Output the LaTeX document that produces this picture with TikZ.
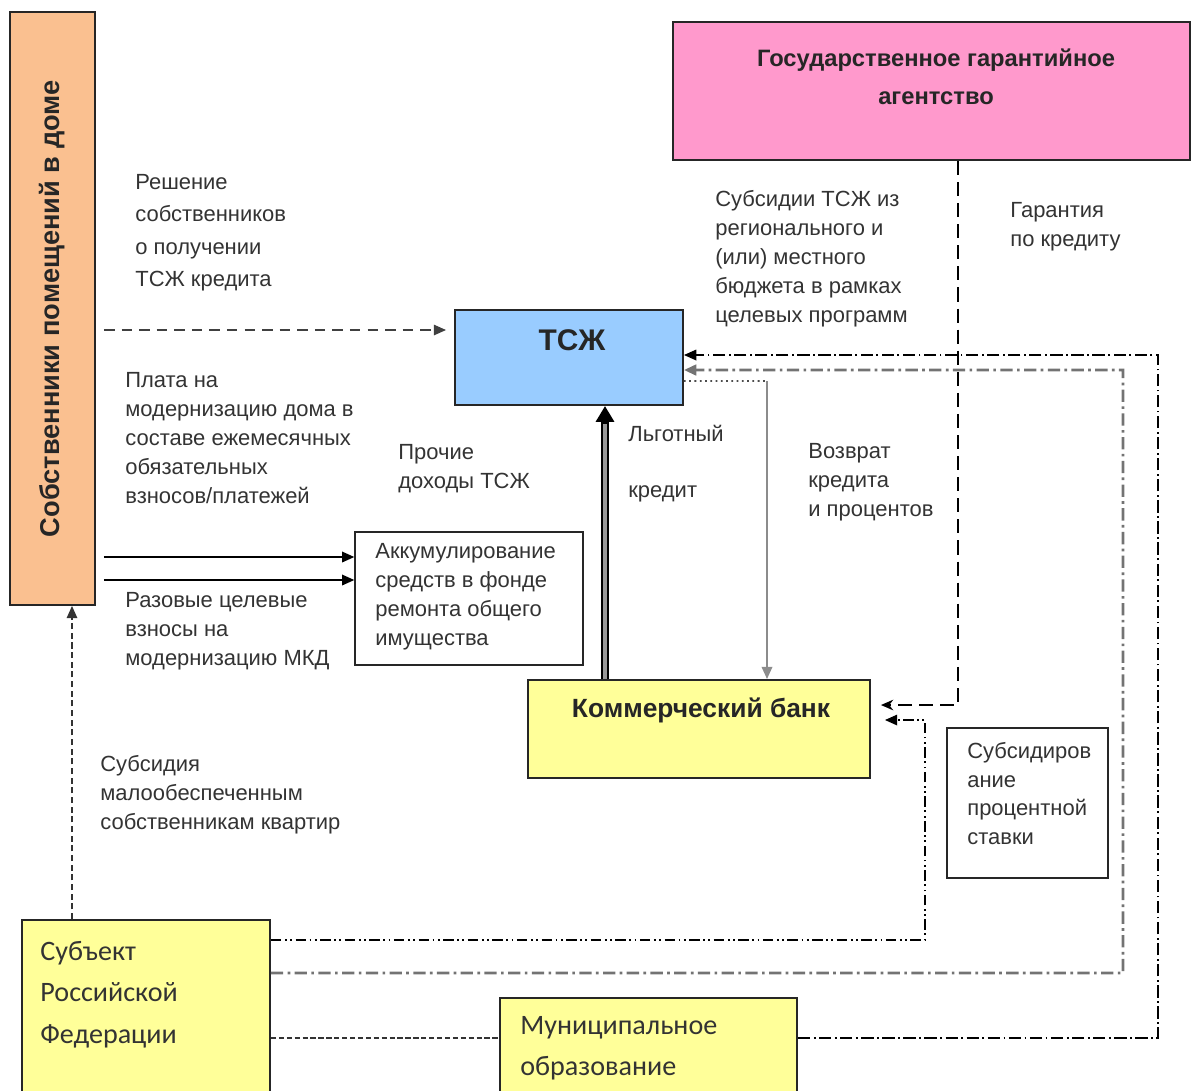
\documentclass[tikz,border=0pt]{standalone}
\usepackage{fontspec}
\setmainfont{Liberation Sans}
\newfontfamily\calib{Carlito}
\usepackage{tikz}
\usetikzlibrary{arrows.meta}
\usetikzlibrary{calc}
\definecolor{ownfill}{HTML}{FAC090}
\definecolor{agfill}{HTML}{FF99CC}
\definecolor{tsfill}{HTML}{99CCFF}
\definecolor{ylfill}{HTML}{FFFF99}
\definecolor{txt}{HTML}{333333}
\tikzset{
  box/.style={draw=black!85,line width=1.1pt,inner sep=0pt},
  lbl/.style={anchor=north west,inner sep=0pt,align=left,text=txt,font=\fontsize{12.5}{16.5}\selectfont},
  tip/.style={-{Triangle[length=7pt,width=6pt]}},
  dashflow/.style={-{Stealth[length=7pt,width=6pt]},line width=1.1pt,dash pattern=on 8pt off 4pt},
  dashthin/.style={tip,line width=0.8pt,black!75,dash pattern=on 6pt off 4pt},
  dashshort/.style={tip,line width=0.9pt,black!80,dash pattern=on 3.5pt off 2pt},
  dashdot/.style={tip,line width=0.9pt,dash pattern=on 7pt off 2pt on 1pt off 2pt},
  dashdotgray/.style={tip,line width=1.6pt,black!55,dash pattern=on 7pt off 2.5pt on 1.5pt off 2.5pt},
  dashdotdot/.style={tip,line width=0.9pt,dash pattern=on 6pt off 2pt on 1pt off 2pt on 1pt off 2pt},
}
\begin{document}
\begin{tikzpicture}[x=0.02cm,y=-0.02cm]
        \useasboundingbox (0,0) rectangle (1192,1090);
        % boxes
        \node[box,fill=ownfill,minimum width=1.7cm,minimum height=11.86cm] (own) at (52.5,308.5) {};
        \node[rotate=90,text=black!85,font=\fontsize{15.5}{18}\selectfont\bfseries] (ownText) at (own.center) {Собственники помещений в доме};
        \node[box,fill=agfill,minimum width=10.34cm,minimum height=2.76cm] (agency) at (931.5,91) {};
        \node[align=center,text=black!85,font=\fontsize{13.5}{21.5}\selectfont\bfseries] (agText) at (936,77) {Государственное гарантийное\\агентство};
        \node[box,fill=tsfill,minimum width=4.56cm,minimum height=1.9cm] (tszh) at (569,357.5) {};
        \node[text=black!85,font=\fontsize{17}{20}\selectfont\bfseries] (tsText) at (572,340) {ТСЖ};
        \node[box,fill=white,line width=0.8pt,minimum width=4.56cm,minimum height=2.66cm] (akk) at (469,598.5) {};
        \node[lbl,font=\fontsize{12.5}{16.5}\selectfont] (akkText) at (375,543) {Аккумулирование\\средств в фонде\\ремонта общего\\имущества};
        \node[box,fill=ylfill,minimum width=6.84cm,minimum height=1.96cm] (bank) at (699,729) {};
        \node[text=black!85,font=\fontsize{15}{18}\selectfont\bfseries] (bankText) at (701,710) {Коммерческий банк};
        \node[box,fill=white,line width=0.8pt,minimum width=3.22cm,minimum height=3cm] (rate) at (1027.5,803) {};
        \node[lbl,font=\fontsize{12.5}{16.3}\selectfont] (rateText) at (967,742) {Субсидиров\\ание\\процентной\\ставки};
        \node[box,fill=ylfill,minimum width=4.96cm,minimum height=3.6cm] (subj) at (146,1010) {};
        \node[lbl,font=\calib\fontsize{16}{23.5}\selectfont] (subjText) at (40,941) {Субъект\\Российской\\Федерации};
        \node[box,fill=ylfill,minimum width=5.94cm,minimum height=2.04cm] (muni) at (648.5,1049) {};
        \node[lbl,font=\calib\fontsize{16}{23.5}\selectfont] (muniText) at (520,1016) {Муниципальное\\образование};
        % labels
        \node[lbl,font=\fontsize{12.5}{18.5}\selectfont] (decision) at (135,174) {Решение\\собственников\\о получении\\ТСЖ кредита};
        \node[lbl] (monthly) at (125,372) {Плата на\\модернизацию дома в\\составе ежемесячных\\обязательных\\взносов/платежей};
        \node[lbl] (other) at (398,444) {Прочие\\доходы ТСЖ};
        \node[lbl,font=\fontsize{12.5}{32}\selectfont] (credit) at (628,425) {Льготный\\кредит};
        \node[lbl] (repay) at (808,443) {Возврат\\кредита\\и процентов};
        \node[lbl] (budget) at (715,190) {Субсидии ТСЖ из\\регионального и\\(или) местного\\бюджета в рамках\\целевых программ};
        \node[lbl] (guarantee) at (1010,202) {Гарантия\\по кредиту};
        \node[lbl] (oneoff) at (125,592) {Разовые целевые\\взносы на\\модернизацию МКД};
        \node[lbl] (poor) at (100,755) {Субсидия\\малообеспеченным\\собственникам квартир};
        % connectors
        \draw[dashthin] ($(own.east |- 0,330)+(8,0)$) -- ($(tszh.west |- 0,330)+(-8,0)$);
        \draw[tip,line width=1pt] ($(own.east |- 0,557)+(8,0)$) -- (akk.west |- 0,557);
        \draw[tip,line width=1pt] ($(own.east |- 0,580)+(8,0)$) -- (akk.west |- 0,580);
        \draw[dashshort] (subj.north -| 72,0) -- (own.south -| 72,0);
        \draw[dashflow] (agency.south -| 958,0) |- ($(bank.east |- 0,705)+(10,0)$);
        \draw[dashdot] ($(muni.east)+(0,-11)$) -| (1158,355) -- ($(tszh.east)+(0,-2.5)$);
        \draw[dashdotgray] ($(subj.east)+(0,-37)$) -| (1123,370) -- ($(tszh.east)+(0,12.5)$);
        \draw[dashdotdot] ($(subj.east)+(0,-70)$) -| (925,720) -- ($(bank.east |- 0,720)+(14,0)$);
        \draw[dashshort,-,dash pattern=on 3pt off 1.5pt,line width=0.8pt] (subj.east |- 0,1038) -- (muni.west |- 0,1038);
        % credit and repayment
        \coordinate (turn) at (767,381);
        \draw[black!70,line width=1pt,dotted] ($(tszh.east)+(0,23.5)$) -- (turn);
        \draw[tip,black!45,line width=1.2pt] (turn) -- (bank.north -| turn);
        \draw[line width=4.5pt,-{Triangle[length=9pt,width=10pt]}] (bank.north -| 605,0) -- (tszh.south -| 605,0);
        \draw[black!40,line width=2.2pt,shorten >=10pt] (bank.north -| 605,0) -- (tszh.south -| 605,0);
    \end{tikzpicture}
\end{document}
